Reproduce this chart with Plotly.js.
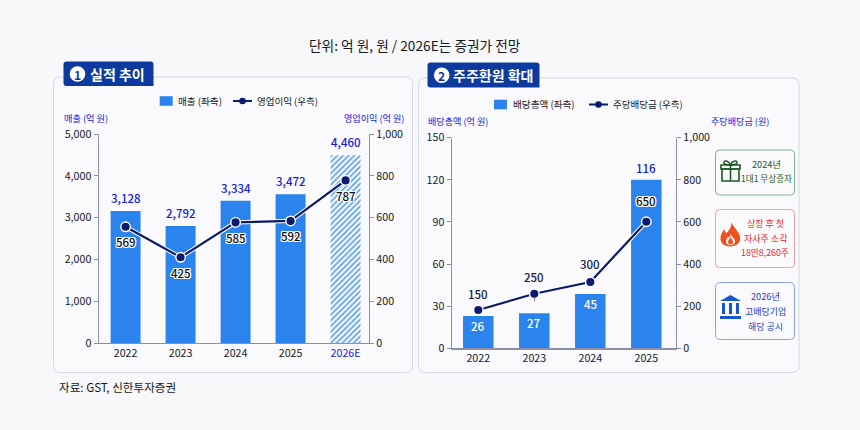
<!DOCTYPE html>
<html><head><meta charset="utf-8">
<script src="https://cdn.plot.ly/plotly-3.0.1.min.js"></script>
<style>html,body{margin:0;padding:0;background:#f8f8fa}#c{width:860px;height:430px}</style>
</head><body><div id="c"></div>
<script>
// ---- data ----
const yearsA = ['2022','2023','2024','2025','2026E'];
const salesDrawn = [3158,2799,3404,3557,4490];
const salesLabels = ['3,128','2,792','3,334','3,472','4,460'];
const profitDrawn = [556,410,577,584,778];
const profitLabels = ['569','425','585','592','787'];
const yearsB = ['2022','2023','2024','2025'];
const payoutDrawn = [23,25,38.7,120];
const payoutLabels = ['26','27','45','116'];
const dpsDrawn = [182,259,315,601];
const dpsLabels = ['150','250','300','650'];

const FONT = '"Noto Sans CJK KR","Noto Sans",sans-serif';
const W = 860, H = 430;
const BAR = '#2b84ee', NAVY = '#0b1a6e', AXIS = '#8b90a6', BLUE = '#1620dc', TXT = '#15181f';
const HALO = '1px 0 0 #fff,-1px 0 0 #fff,0 1px 0 #fff,0 -1px 0 #fff,1px 1px 0 #fff,-1px -1px 0 #fff,1px -1px 0 #fff,-1px 1px 0 #fff';
const fx = p => p / W, fy = p => 1 - p / H;
const toPaper = s => s.replace(/(-?[\d.]+),(-?[\d.]+)/g, (m, a, b) => fx(+a) + ',' + fy(+b));

const shapes = [], ann = [];
function path(d, fill, line, lw) {
  shapes.push({type:'path', xref:'paper', yref:'paper', path:toPaper(d), fillcolor:fill || 'rgba(0,0,0,0)',
    line:{color:line || 'rgba(0,0,0,0)', width:lw === undefined ? 1 : lw}, layer:'below'});
}
function rrect(x0,y0,x1,y1,r) {
  return `M${x0+r},${y0} L${x1-r},${y0} Q${x1},${y0} ${x1},${y0+r} L${x1},${y1-r} Q${x1},${y1} ${x1-r},${y1} L${x0+r},${y1} Q${x0},${y1} ${x0},${y1-r} L${x0},${y0+r} Q${x0},${y0} ${x0+r},${y0} Z`;
}
function text(x,y,t,size,color,opts) {
  ann.push(Object.assign({xref:'paper',yref:'paper',x:fx(x),y:fy(y),text:t,showarrow:false,xanchor:'center',yanchor:'middle',
    font:{family:FONT,size:size,color:color}}, opts||{}));
}
function circle(cx,cy,r,fill,line,lw){
  shapes.push({type:'circle',xref:'paper',yref:'paper',x0:fx(cx-r),x1:fx(cx+r),y0:fy(cy+r),y1:fy(cy-r),fillcolor:fill,line:{color:line||fill,width:lw||0},layer:'below'});
}
// panels
path(rrect(53.5,77,412.5,372.5,7), '#fafafc', '#d3d8e8', 1);
path(rrect(418.5,78,799,372.5,7), '#fafafc', '#d3d8e8', 1);
// badges
function badge(x0,x1,y0,y1,cx,cy,num,tx,label){
  path(`M${x0+3},${y0} L${x1-3},${y0} Q${x1},${y0} ${x1},${y0+3} L${x1},${y1} L${x0+3},${y1} Q${x0},${y1} ${x0},${y1-3} L${x0},${y0+3} Q${x0},${y0} ${x0+3},${y0} Z`, '#0c3a9e', '#0c3a9e', 0);
  circle(cx,cy,7.8,'#ffffff');
  text(cx,cy,'<b>'+num+'</b>',12,'#0c3a9e');
  text(tx,cy,'<b>'+label+'</b>',14,'#ffffff');
}
badge(63.5,153.5,61.5,86,77.5,74,'1',117.5,'실적 추이');
badge(427.5,539.5,62.5,87.5,441.7,75.3,'2',493,'주주환원 확대');
// top + source
text(415,45,'단위: 억 원, 원 / 2026E는 증권가 전망',13.7,TXT);
text(57,387,'자료: GST, 신한투자증권',11.6,TXT,{xanchor:'left'});
// axis captions
text(62,117.5,'매출 (억 원)',9.2,BLUE,{xanchor:'left'});
text(406,117.5,'영업이익 (억 원)',9.1,BLUE,{xanchor:'right'});
text(426,121,'배당총액 (억 원)',9.1,BLUE,{xanchor:'left'});
text(771,121,'주당배당금 (원)',9.1,BLUE,{xanchor:'right'});
// legends
function legendKey(sx,lx,y,t1,t2){
  path(`M${sx},${y-4.8} L${sx+13},${y-4.8} L${sx+13},${y+4.8} L${sx},${y+4.8} Z`, BAR, BAR, 0);
  text(sx+16.5,y,t1,9.6,TXT,{xanchor:'left'});
  path(`M${lx},${y} L${lx+19},${y}`, null, NAVY, 2);
  circle(lx+9.5,y,3.3,NAVY);
  text(lx+22,y,t2,9.5,TXT,{xanchor:'left'});
}
legendKey(159.7,233,101,'매출 (좌측)','영업이익 (우측)');
legendKey(494,589,104.5,'배당총액 (좌측)','주당배당금 (우측)');
// side boxes
path(rrect(715.5,150,794.5,195,4), '#fafafc', '#86b193', 1);
path(rrect(715.5,209.5,794.5,267.5,4), '#fafafc', '#f5a0a2', 1);
path(rrect(715.5,282.5,794.5,339.5,5), '#fafafc', '#8aa2ee', 1);
const G='#1c5a2a', R='#e9262e', B2='#1a3fc4';
text(766,164,'2024년',9.2,G); text(766.5,178,'1대1 무상증자',8.6,G);
text(765,223,'상장 후 첫',9,R); text(765,238,'자사주 소각',9,R); text(764.5,253,'18만8,260주',8.8,R);
text(765,296,'2026년',9.2,B2); text(765,311,'고배당기업',9,B2); text(765,326,'해당 공시',9,B2);
// gift icon
path('M722,169 L739,169 L739,181 L722,181 Z','rgba(0,0,0,0)',G,1.6);
path('M721,165 L740,165 L740,169 L721,169 Z','rgba(0,0,0,0)',G,1.6);
path('M730.5,165 L730.5,181','rgba(0,0,0,0)',G,1.6);
path('M730.5,165 C725,165 723,163 724,162 C725,160 729,161 730.5,165 C732,161 736,160 737,162 C738,163 736,165 730.5,165 Z','rgba(0,0,0,0)',G,1.4);
// flame icon
path('M731,222 C733,227 739,231 740,237 C741,243 736,246.5 730,246.5 C724,246.5 720,243 720.5,237 C721,234 723,231 724,229 C725,232 726,233 727,233 C729,230 732,227 731,222 Z','#f0511c','#f0511c',0);
path('M730.5,233 C731,237 735,238 735,241 C735,244 733,245 730.5,245 C728,245 726,244 726,241 C726,239 727,238 728,237 C729,238 731,236 730.5,233 Z','#fafafc','#fafafc',0);
path('M730.5,236.5 C731,239 733,240 733,242 C733,243.6 732,244.5 730.5,244.5 C729,244.5 728,243.6 728,242 C728,240 730,239 730.5,236.5 Z','#f0511c','#f0511c',0);
// bank icon
path('M730.5,295 L741,301 L720,301 Z','#1558c8','#1558c8',0);
path('M722,303 L725,303 L725,314 L722,314 Z M729,303 L732,303 L732,314 L729,314 Z M736,303 L739,303 L739,314 L736,314 Z','#1558c8','#1558c8',0);
path('M720,316 L741,316 L741,319 L720,319 Z','#1558c8','#1558c8',0);

// value labels through the axes (x = category index)
function label(xa,ya,x,y,t,shift,size,color,halo){
  const f = {family:FONT,size:size,color:color,weight:500};
  if (halo) f.shadow = HALO;
  ann.push({xref:xa,yref:ya,x:x,y:y,text:t,showarrow:false,xanchor:'center',yanchor:'middle',yshift:shift,font:f});
}
yearsA.forEach((c,i)=>{
  label('x','y',i,salesDrawn[i],salesLabels[i],13,11.5,BLUE);
  label('x','y2',i,profitDrawn[i],profitLabels[i],-15.5,11.5,'#111',true);
});
yearsB.forEach((c,i)=>{
  const last = i === yearsB.length-1;
  label('x2','y3',i,payoutDrawn[i],payoutLabels[i],last?12:-10,11.5,last?BLUE:'#ffffff');
  label('x2','y4',i,dpsDrawn[i],dpsLabels[i],[16,17,18,21][i],11.5,last?'#111':'#16204a',last);
});
label('x2','y3',1,payoutDrawn[1],'↑',15,7,'#16204a');

// traces
const lineT = (x,y,ya,xa,name)=>[
  {type:'scatter',mode:'lines',x:x,y:y,xaxis:xa,yaxis:ya,line:{color:'#ffffff',width:4.2},showlegend:false,hoverinfo:'skip'},
  {type:'scatter',mode:'lines+markers',name:name,x:x,y:y,xaxis:xa,yaxis:ya,showlegend:false,
   line:{color:NAVY,width:2.2},marker:{color:NAVY,size:9.5,line:{color:'#ffffff',width:1.4}}}
];
const traces = [
  {type:'bar',name:'매출 (좌측)',x:yearsA,y:salesDrawn,xaxis:'x',yaxis:'y',showlegend:false,
   marker:{color:[BAR,BAR,BAR,BAR,'#5a9fee'],line:{width:0},
     pattern:{shape:['','','','','/'],fgcolor:'#5a9fee',bgcolor:'#c4dcf8',size:4,solidity:0.42}}},
  ...lineT(yearsA,profitDrawn,'y2','x','영업이익 (우측)'),
  {type:'bar',name:'배당총액 (좌측)',x:yearsB,y:payoutDrawn,xaxis:'x2',yaxis:'y3',showlegend:false,marker:{color:BAR,line:{width:0}}},
  ...lineT(yearsB,dpsDrawn,'y4','x2','주당배당금 (우측)')
];

const tickFont = {family:FONT,size:10.7,color:TXT};
const yCommon = {showgrid:false,zeroline:false,showline:true,linecolor:AXIS,linewidth:1.2,ticks:'outside',ticklen:4,tickcolor:AXIS,tickwidth:1,tickfont:tickFont,tickformat:',d',fixedrange:true};
const xCommon = {type:'category',showgrid:false,zeroline:false,showline:true,linecolor:AXIS,linewidth:1.2,ticks:'',tickfont:tickFont,fixedrange:true};

const layout = {
  width:W,height:H,margin:{l:0,r:0,t:0,b:0},paper_bgcolor:'#f8f8fa',plot_bgcolor:'rgba(0,0,0,0)',
  font:{family:FONT},bargap:0.455,showlegend:false,
  xaxis:Object.assign({},xCommon,{domain:[fx(98.7),fx(369)],range:[-0.489,4.426],anchor:'y',
    categoryorder:'array',categoryarray:yearsA,tickmode:'array',tickvals:yearsA,
    ticktext:yearsA.map(c=>c==='2026E'?`<span style="color:${BLUE}">${c}</span>`:c)}),
  yaxis:Object.assign({},yCommon,{domain:[fy(343),fy(134)],range:[0,5000],dtick:1000,anchor:'x'}),
  yaxis2:Object.assign({},yCommon,{domain:[fy(343),fy(134)],range:[0,1000],dtick:200,overlaying:'y',side:'right',anchor:'x'}),
  xaxis2:Object.assign({},xCommon,{domain:[fx(451.7),fx(676)],range:[-0.475,3.53],anchor:'y3',
    categoryorder:'array',categoryarray:yearsB}),
  yaxis3:Object.assign({},yCommon,{domain:[fy(348.3),fy(137.7)],range:[0,150],dtick:30,anchor:'x2'}),
  yaxis4:Object.assign({},yCommon,{domain:[fy(348.3),fy(137.7)],range:[0,1000],dtick:200,overlaying:'y3',side:'right',anchor:'x2'}),
  shapes:shapes,annotations:ann
};
Plotly.newPlot('c',traces,layout,{displayModeBar:false,staticPlot:true});
</script></body></html>
